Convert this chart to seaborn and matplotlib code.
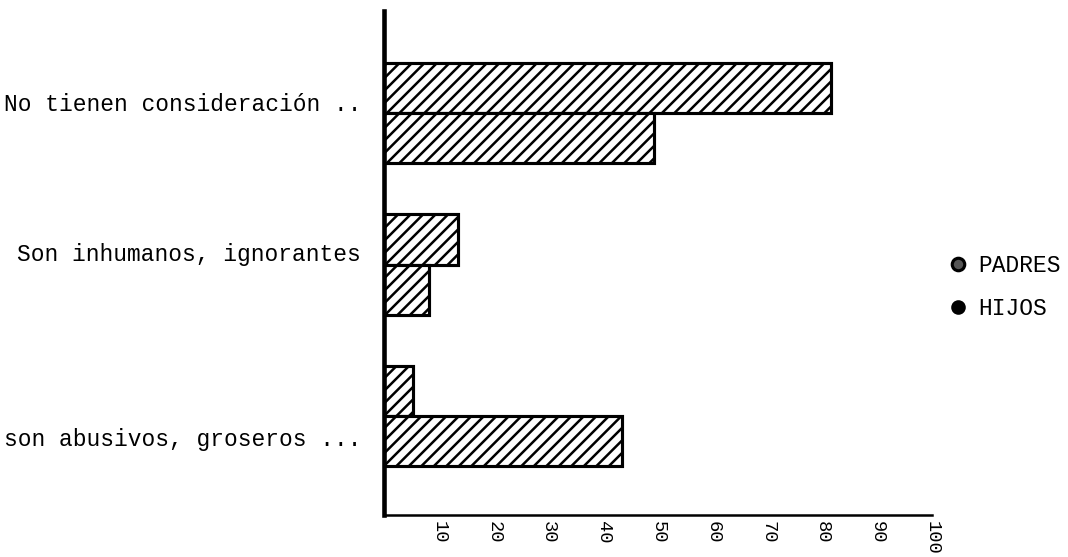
import seaborn as sns
import matplotlib.pyplot as plt
import pandas as pd
from matplotlib.lines import Line2D


# datos (porcentaje)
razones = ['No tienen consideración ..', 'Son inhumanos, ignorantes',
           'son abusivos, groseros ...']
padres = [81.5, 13.5, 5.3]
hijos = [49.3, 8.2, 43.4]
marcas_x = [10, 20, 30, 40, 50, 60, 70, 80, 90, 100]

df = pd.DataFrame({
    'razon': razones * 2,
    'pct': padres + hijos,
    'grupo': ['PADRES'] * 3 + ['HIJOS'] * 3,
})

sns.set_style('white')
plt.rcParams['font.family'] = ['Liberation Mono', 'DejaVu Sans Mono']
plt.rcParams['text.color'] = 'black'
plt.rcParams['xtick.color'] = 'black'
plt.rcParams['ytick.color'] = 'black'
plt.rcParams['hatch.linewidth'] = 1.2

fig = plt.figure(figsize=(1068 / 150, 557 / 150), dpi=150)
ax = fig.add_axes([0.3596, 0.0754, 0.5131, 0.9049])

sns.barplot(data=df, y='razon', x='pct', hue='grupo', orient='h',
            width=0.66, palette=['white', 'white'], edgecolor='black',
            linewidth=1.5, errorbar=None, legend=False, ax=ax)
for p in ax.patches:
    p.set_hatch('////')

ax.set_xlim(0, 100)
ax.set_ylim(2.653, -0.673)
ax.set_xticks(marcas_x)
ax.set_xticklabels([str(v) for v in marcas_x], rotation=-90, fontsize=9)
# las etiquetas del original no estan centradas del todo
desfase = [-0.07, -0.08, 0.14]
ax.set_yticks([i + d for i, d in enumerate(desfase)])
ax.set_yticklabels(razones, fontsize=11)
ax.set_xlabel('')
ax.set_ylabel('')
ax.tick_params(axis='y', length=0, pad=11)
ax.tick_params(axis='x', direction='in', length=3, width=1, pad=3)

sns.despine(ax=ax)
ax.spines['left'].set_linewidth(2.2)
ax.spines['bottom'].set_linewidth(1.2)
ax.spines['left'].set_color('black')
ax.spines['bottom'].set_color('black')

manejadores = [
    Line2D([], [], linestyle='', marker='o', markersize=6,
           markerfacecolor='#555555', markeredgecolor='black', markeredgewidth=1.5),
    Line2D([], [], linestyle='', marker='o', markersize=6,
           markerfacecolor='black', markeredgecolor='black'),
]
fig.legend(manejadores, ['PADRES', 'HIJOS'], loc='center left',
           bbox_to_anchor=(0.886, 0.4847), frameon=False, borderpad=0,
           borderaxespad=0, handlelength=1.0, handletextpad=0.375,
           labelspacing=0.91, fontsize=11)

fig.savefig('out.png', dpi=150)
